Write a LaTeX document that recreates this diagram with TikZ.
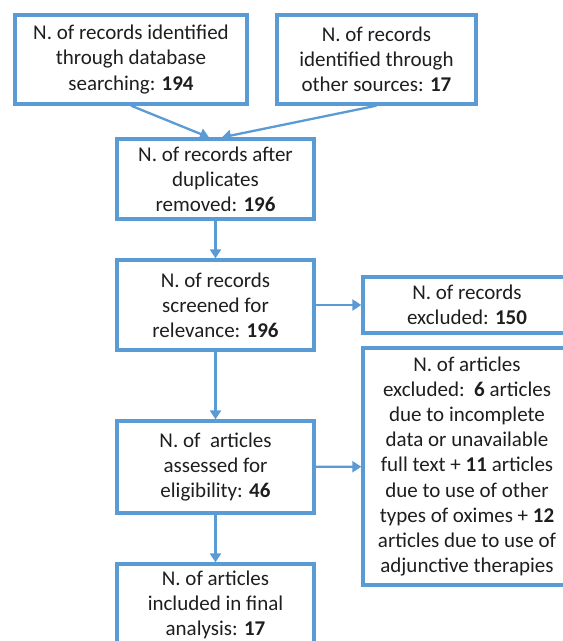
\documentclass[tikz,border=0pt]{standalone}
\usepackage{fontspec}
\setmainfont{Carlito}
\usetikzlibrary{arrows.meta}

\definecolor{flowblue}{RGB}{91,155,213}
\definecolor{flowtext}{RGB}{30,30,30}

\tikzset{every picture/.style={line width=0.75pt}}
\tikzset{
	flowbox/.style={draw=flowblue, line width=3.3pt, align=center, inner sep=0pt, text=flowtext,
		font=\fontsize{21}{25.2}\selectfont},
	flowarrow/.style={draw=flowblue, line width=2.3pt, -{Triangle[length=9pt,width=11pt]}}
}

\begin{document}
\begin{tikzpicture}[x=1pt,y=1pt,yscale=-1]
	%set diagram left start at 0, and has height of 641
	\useasboundingbox (0,0) rectangle (563,641);
	
	%Flowchart: Process [id:dbrecords] 
	\node (dbrec) at (131,59.5) [flowbox, minimum width=232pt, minimum height=89pt] {N. of records identified\\through database\\searching: \textbf{194}};
	%Flowchart: Process [id:otherrecords] 
	\node (otherrec) at (376.5,59.5) [flowbox, minimum width=199pt, minimum height=89pt] {N. of records\\identified through\\other sources: \textbf{17}};
	%Flowchart: Process [id:dedup] 
	\node (dedup) at (215.5,179) [flowbox, minimum width=197pt, minimum height=80pt] {N. of records after\\duplicates\\removed: \textbf{196}};
	%Flowchart: Process [id:screened] 
	\node (screened) at (215.5,305) [flowbox, minimum width=197pt, minimum height=90pt] {N. of records\\screened for\\relevance: \textbf{196}};
	%Flowchart: Process [id:recexcl] 
	\node (recexcl) at (467,305) [flowbox, minimum width=208pt, minimum height=56pt] {N. of records\\excluded: \textbf{150}};
	%Flowchart: Process [id:assessed] 
	\node (assessed) at (215.5,467) [flowbox, minimum width=197pt, minimum height=92pt] {N. of\ \ articles\\assessed for\\eligibility: \textbf{46}};
	%Flowchart: Process [id:artexcl] 
	\node (artexcl) at (467,466.5) [flowbox, minimum width=208pt, minimum height=237pt] {N. of articles\\excluded:\ \ \textbf{6} articles\\due to incomplete\\data or unavailable\\full text + \textbf{11} articles\\due to use of other\\types of oximes + \textbf{12}\\articles due to use of\\adjunctive therapies};
	%Flowchart: Process [id:included] 
	\node (included) at (215.5,605) [flowbox, minimum width=197pt, minimum height=82pt] {N. of articles\\included in final\\analysis: \textbf{17}};
	
	%Straight Lines [id:identified] 
	\draw [flowarrow] (dbrec.south) -- ([xshift=-6.5pt]dedup.north);
	\draw [flowarrow] (otherrec.south) -- ([xshift=6.5pt]dedup.north);
	%Straight Lines [id:down] 
	\draw [flowarrow] (dedup) -- (screened);
	\draw [flowarrow] (screened) -- (assessed);
	\draw [flowarrow] (assessed) -- (included);
	%Straight Lines [id:excluded] 
	\draw [flowarrow] (screened) -- (recexcl);
	\draw [flowarrow] (assessed) -- (artexcl);
	
\end{tikzpicture}
\end{document}
